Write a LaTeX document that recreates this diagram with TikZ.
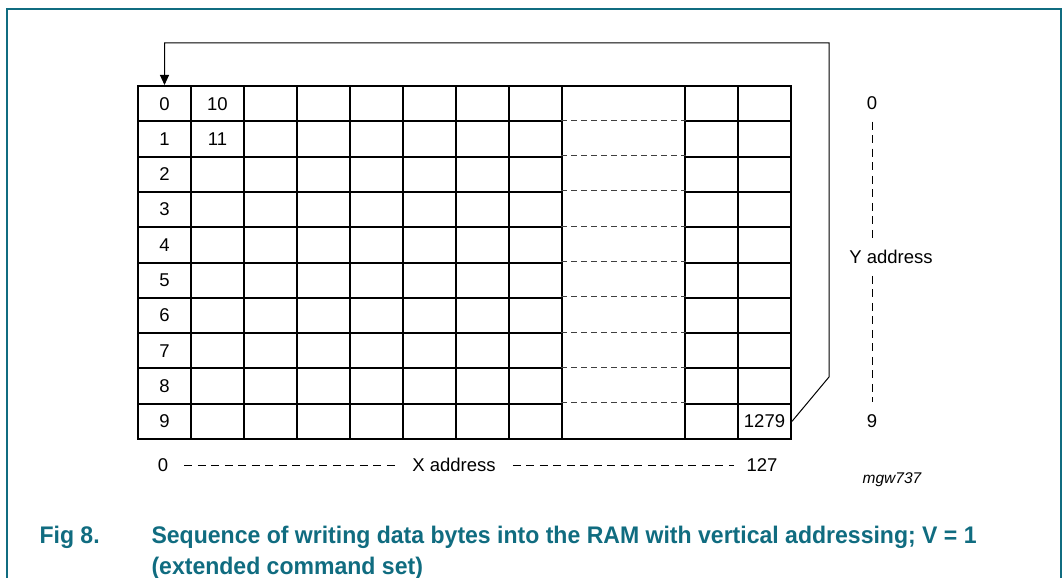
\documentclass[tikz,border=0pt]{standalone}
\usepackage{fontspec}
\setmainfont{Liberation Sans}
\newfontfamily\capfont[FakeStretch=0.96]{Liberation Sans}
\usepackage{tikz}
\usetikzlibrary{positioning,arrows.meta,calc}
\definecolor{figteal}{RGB}{16,108,128}

\begin{document}
\begin{tikzpicture}[x=1pt,y=-1pt,
  cell/.style={draw,line width=2pt,minimum width=53pt,minimum height=35.3pt,
    inner sep=0pt,anchor=north west,font=\fontsize{18.5}{21}\selectfont},
  celltext/.style={font=\fontsize{18.5}{21}\selectfont},
  gapdash/.style={draw=black!75,line width=1pt,dash pattern=on 6pt off 4pt},
  addr/.style={line width=1pt,dash pattern=on 8pt off 5.5pt},
  addrlabel/.style={font=\fontsize{18.5}{21}\selectfont,inner sep=12pt}]
  \useasboundingbox (0,0) rectangle (1063,578);

  % outer frame, open at the bottom
  \draw[figteal,line width=1.3pt] (7,578) -- (7,9) -- (1061,9) -- (1061,578);

  % RAM cells
  \foreach \r in {0,...,9} {
  \node[cell] (c-\r-0) at (137,{85+35.3*\r}) {\r};
  }
  \def\colxlist{190,243,296,349,402,455,508,684,737}
  \foreach \x [count=\c] in \colxlist {
  \foreach \r in {0,...,9} {
    \node[cell] (c-\r-\c) at (\x,{85+35.3*\r}) {};
  }
  }
  \node[cell,minimum width=123pt,minimum height=353pt] (gap) at (561,85) {};
  \foreach \r in {1,...,9} {
  \draw[gapdash] (gap.west |- c-\r-0.north) -- (gap.east |- c-\r-0.north);
  }
  \node[celltext] (v10) at (c-0-1) {10};
  \node[celltext] (v11) at (c-1-1) {11};
  \node[celltext] (v1279) at (c-9-9) {1279};

  % wrap-around arrow
  \coordinate (kink) at (829,377);
  \coordinate (back) at ($(c-0-0.north)+(0,-42)$);
  \draw[line width=1pt,-{Triangle[length=10pt,width=9pt]}]
    (c-9-9.east) -- (kink) |- (back) -- (c-0-0.north);

  % Y address
  \node[addrlabel] (y0) at (872,103) {0};
  \node[addrlabel,inner sep=12pt] (ylab) at (891,257) {Y address};
  \node[addrlabel] (y9) at (872,421) {9};
  \draw[addr] (y0) -- (y0 |- ylab.north);
  \draw[addr] (y9 |- ylab.south) -- (y9);

  % X address
  \node[addrlabel,inner sep=16pt] (x0) at (163,465) {0};
  \node[addrlabel,inner sep=17pt] (xlab) at (454,465) {X address};
  \node[addrlabel] (x127) at (762,465) {127};
  \draw[addr] (x0) -- (xlab);
  \draw[addr] (xlab) -- (x127);

  \node[font=\itshape\fontsize{15.5}{18}\selectfont] (figid) at (892,480) {mgw737};

  % caption
  \node[anchor=base west,text=figteal,font=\capfont\bfseries\fontsize{24}{28}\selectfont]
    (fignum) at (36,543) {Fig 8.};
  \node[anchor=base west,text=figteal,font=\capfont\bfseries\fontsize{24}{28}\selectfont]
    (figtitle) at (148,543) {Sequence of writing data bytes into the RAM with vertical addressing; V = 1};
  \node[anchor=base west,text=figteal,font=\capfont\bfseries\fontsize{24}{28}\selectfont]
    (figtitle2) at (148,574) {(extended command set)};
\end{tikzpicture}
\end{document}
